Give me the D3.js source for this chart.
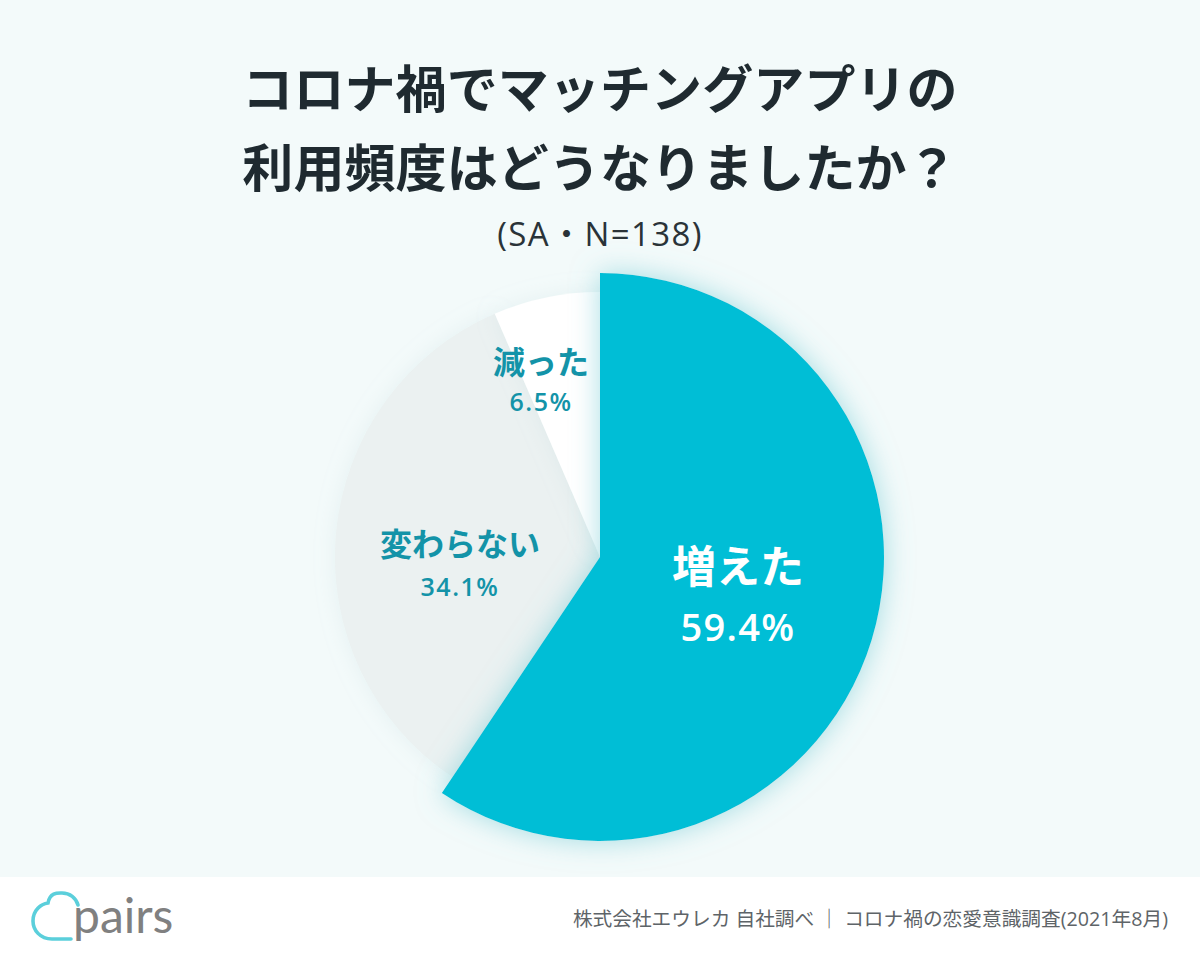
<!DOCTYPE html>
<html lang="ja"><head><meta charset="utf-8">
<script src="https://cdn.jsdelivr.net/npm/d3@7"></script>
<style>html,body{margin:0;padding:0;background:#fff}svg{display:block}</style>
</head><body><svg id="c" width="1200" height="960"></svg>
<script>
const categories = ["増えた", "変わらない", "減った"];
const values = [59.4, 34.1, 6.5];
const valueLabels = ["59.4%", "34.1%", "6.5%"];
const colors = ["#00bed6", "#ebf1f1", "#ffffff"];
const titleLines = ["コロナ禍でマッチングアプリの", "利用頻度はどうなりましたか？"];
const subtitle = "(SA・N=138)";
const source = "株式会社エウレカ 自社調べ ｜ コロナ禍の恋愛意識調査(2021年8月)";
const JP = "'Noto Sans CJK JP','Noto Sans',sans-serif";
const LAT = "'Open Sans','Noto Sans CJK JP',sans-serif";
const svg = d3.select("#c");
const defs = svg.append("defs");
const f = defs.append("filter").attr("id","glow").attr("x","-20%").attr("y","-20%").attr("width","140%").attr("height","140%");
f.append("feDropShadow").attr("dx",0).attr("dy",0).attr("stdDeviation",14).attr("flood-color","#6cc8d2").attr("flood-opacity",0.6);
const f2 = defs.append("filter").attr("id","glow2").attr("x","-20%").attr("y","-20%").attr("width","140%").attr("height","140%");
f2.append("feDropShadow").attr("dx",0).attr("dy",0).attr("stdDeviation",10).attr("flood-color","#b8d4d8").attr("flood-opacity",0.25);

svg.append("rect").attr("width",1200).attr("height",877).attr("fill","#f3fafa");
svg.append("rect").attr("y",877).attr("width",1200).attr("height",83).attr("fill","#ffffff");

const title = svg.append("g").attr("font-family",JP).attr("font-weight",700).attr("fill","#1f2a30").attr("text-anchor","middle");
title.selectAll("text").data(titleLines).join("text")
  .attr("x",600).attr("y",(d,i)=>[108,187][i]).attr("font-size",51).attr("letter-spacing",0.1).text(d=>d);
svg.append("text").attr("x",600).attr("y",246).attr("text-anchor","middle").attr("font-family",LAT).attr("font-size",33).attr("letter-spacing",1.4).attr("fill","#2a3338").text(subtitle);

const cx=600, cy=557;
const outer=[284,265,265];
const pie=d3.pie().sort(null).value(d=>d)(values);
const g=svg.append("g").attr("transform",`translate(${cx},${cy})`);
// paint smaller wedges first, large one on top with its glow
[1,2,0].forEach(i=>{
  g.append("path").attr("d",d3.arc().innerRadius(0).outerRadius(outer[i])(pie[i]))
   .attr("fill",colors[i]).attr("filter",i===0?"url(#glow)":"url(#glow2)");
});

const lab=svg.append("g").attr("text-anchor","middle");
const labelCfg=[{x:738,y1:583,y2:641,s1:44,s2:38,ls:1.3,c:"#ffffff"},{x:460,y1:556,y2:596,s1:32,s2:25,ls:1.5,c:"#1393a8"},{x:541,y1:374,y2:411,s1:32,s2:25,ls:1.5,c:"#1393a8"}];
categories.forEach((c,i)=>{
  const k=labelCfg[i];
  lab.append("text").attr("x",k.x).attr("y",k.y1).attr("font-family",JP).attr("font-weight",700).attr("font-size",k.s1).attr("fill",k.c).text(c);
  lab.append("text").attr("x",k.x).attr("y",k.y2).attr("font-family",LAT).attr("font-weight",600).attr("font-size",k.s2).attr("fill",k.c).attr("letter-spacing",k.ls).text(valueLabels[i]);
});

// logo
svg.append("path").attr("d","M71 939 H52 C40 939 33 930 33 921 C33 910 41 904 48 903 C50 892 58 893 62 893 C70 893 76 898 78 905")
 .attr("fill","none").attr("stroke","#5bcfdb").attr("stroke-width",3.6).attr("stroke-linecap","round");
svg.append("text").attr("x",73).attr("y",933).attr("font-family","Lato,'Open Sans',sans-serif").attr("font-size",48).attr("fill","#808080").text("pairs");

svg.append("text").attr("x",1168).attr("y",926).attr("text-anchor","end").attr("font-family",LAT).attr("font-size",19.7).attr("fill","#5e6468").text(source);
</script></body></html>
